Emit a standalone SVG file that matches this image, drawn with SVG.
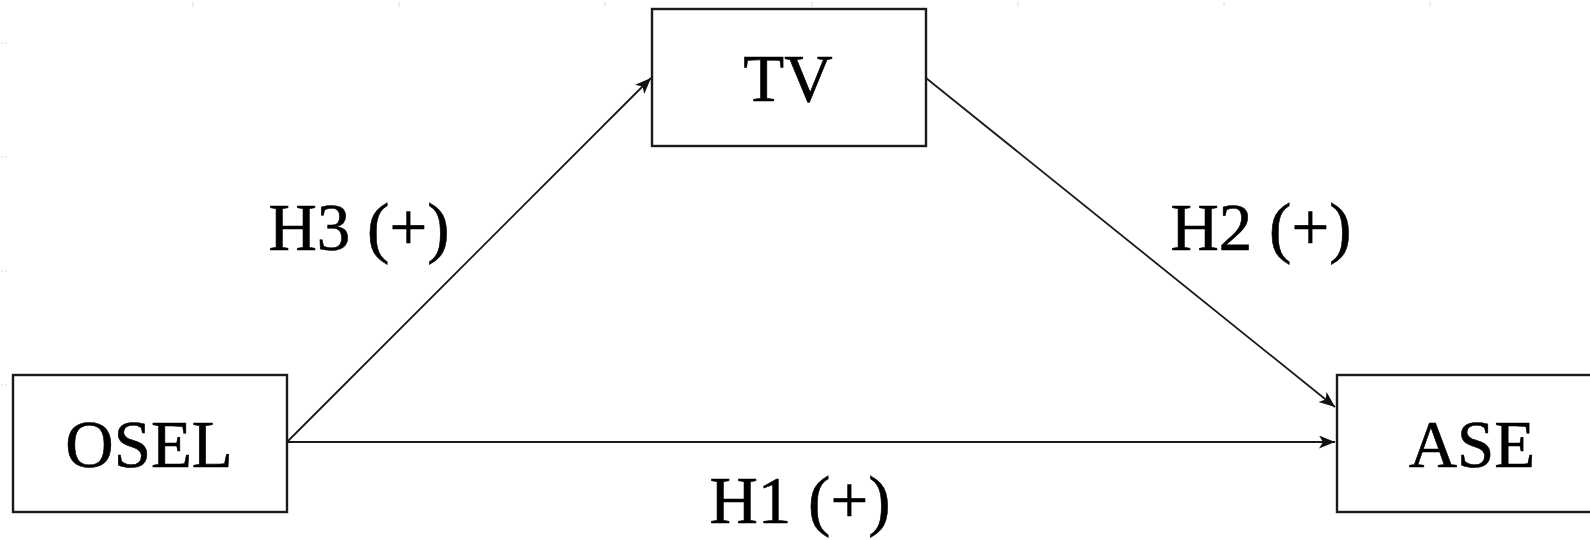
<svg xmlns="http://www.w3.org/2000/svg" width="1590" height="540" viewBox="0 0 1590 540">
  <style>
    .box { fill: #ffffff; stroke: #1a1a1a; stroke-width: 2.4; }
    .label { font-family: "Liberation Serif", "Times New Roman", serif; font-size: 67px; fill: #000000; stroke: #000000; stroke-width: 0.6; text-anchor: middle; }
    .edge { fill: none; stroke: #1a1a1a; stroke-width: 1.8; marker-end: url(#arrow); }
    .tick { stroke: #dcdcdc; stroke-width: 1; }
  </style>
  <defs>
    <marker id="arrow" markerUnits="userSpaceOnUse" markerWidth="18" markerHeight="14" refX="16" refY="6.5" orient="auto">
      <path d="M0,0 L16,6.5 L0,13 L4,6.5 Z" fill="#111111"/>
    </marker>
  </defs>

  <rect width="1590" height="540" fill="#ffffff"/>

  <!-- faint grid ticks along the page edges -->
  <g id="grid-ticks">
    <line class="tick" x1="193" y1="2" x2="193" y2="7"/>
    <line class="tick" x1="399" y1="2" x2="399" y2="7"/>
    <line class="tick" x1="605" y1="2" x2="605" y2="7"/>
    <line class="tick" x1="812" y1="2" x2="812" y2="7"/>
    <line class="tick" x1="1018" y1="2" x2="1018" y2="7"/>
    <line class="tick" x1="1224" y1="2" x2="1224" y2="7"/>
    <line class="tick" x1="1430" y1="2" x2="1430" y2="7"/>
    <line class="tick" x1="1" y1="43" x2="9" y2="43" stroke-dasharray="2 2"/>
    <line class="tick" x1="1" y1="157" x2="9" y2="157" stroke-dasharray="2 2"/>
    <line class="tick" x1="1" y1="271" x2="9" y2="271" stroke-dasharray="2 2"/>
    <line class="tick" x1="1" y1="385" x2="9" y2="385" stroke-dasharray="2 2"/>
  </g>

  <!-- connectors -->
  <g id="connectors">
    <line class="edge" x1="287" y1="442" x2="651" y2="78"/>
    <line class="edge" x1="926" y1="78" x2="1335" y2="407"/>
    <line class="edge" x1="287" y1="442" x2="1335" y2="442"/>
    <text class="label" x="359" y="250">H3 (+)</text>
    <text class="label" x="1261" y="250">H2 (+)</text>
    <text class="label" x="800" y="523">H1 (+)</text>
  </g>

  <g id="node-tv">
    <rect class="box" x="652" y="9" width="274" height="137"/>
    <text class="label" x="788" y="101">TV</text>
  </g>

  <g id="node-osel">
    <rect class="box" x="13" y="375" width="274" height="137"/>
    <text class="label" x="149" y="467">OSEL</text>
  </g>

  <g id="node-ase">
    <rect class="box" x="1337" y="375" width="274" height="137"/>
    <text class="label" x="1472" y="467">ASE</text>
  </g>
</svg>
